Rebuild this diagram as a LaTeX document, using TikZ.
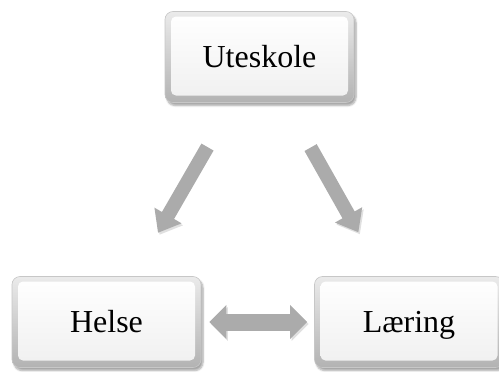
\documentclass[tikz,border=0pt]{standalone}
\usepackage{fontspec}
\setmainfont{Liberation Serif}
\usetikzlibrary{arrows.meta,shadows.blur,calc}
\tikzset{
  bevelbox/.style={
    rounded corners=8pt, minimum width=189pt, minimum height=91pt,
    top color=black!8, bottom color=black!30, draw=black!22, line width=0.6pt,
    blur shadow={shadow xshift=2pt, shadow yshift=-3pt, shadow blur steps=6, shadow opacity=35},
    font=\fontsize{32}{37}\selectfont, inner sep=0pt, text height=21pt, text depth=0pt,
    path picture={
      \shade[top color=white, bottom color=black!6, rounded corners=5pt]
        ($(path picture bounding box.south west)+(6pt,7pt)$) rectangle
        ($(path picture bounding box.north east)+(-6pt,-5pt)$);
    }
  },
  fatdown/.style={
    draw=black!33, line width=14pt,
    -{Triangle[width=30pt,length=20pt]},
    preaction={draw=black!12, transform canvas={shift={(1.5pt,-2pt)}}}
  },
  fatboth/.style={
    draw=black!33, line width=17pt,
    {Triangle[width=33pt,length=17pt]}-{Triangle[width=33pt,length=17pt]},
    preaction={draw=black!12, transform canvas={shift={(1.5pt,-2pt)}}}
  }
}
\begin{document}
\begin{tikzpicture}[x=1pt,y=-1pt]
\useasboundingbox (0,0) rectangle (499,372);
\clip (0,0) rectangle (499,372);
\node[bevelbox] (top) at (259.5,57) {Uteskole};
\node[bevelbox] (helse) at (106.5,322) {Helse};
\node[bevelbox] (laering) at (409,322) {Læring};
\draw[fatdown, shorten <=104pt, shorten >=103pt] (top.center) -- (helse.center);
\draw[fatdown, shorten <=104pt, shorten >=103pt] (top.center) -- (laering.center);
\draw[fatboth, shorten <=8pt, shorten >=7pt] (helse.east) -- (laering.west);
\end{tikzpicture}
\end{document}
